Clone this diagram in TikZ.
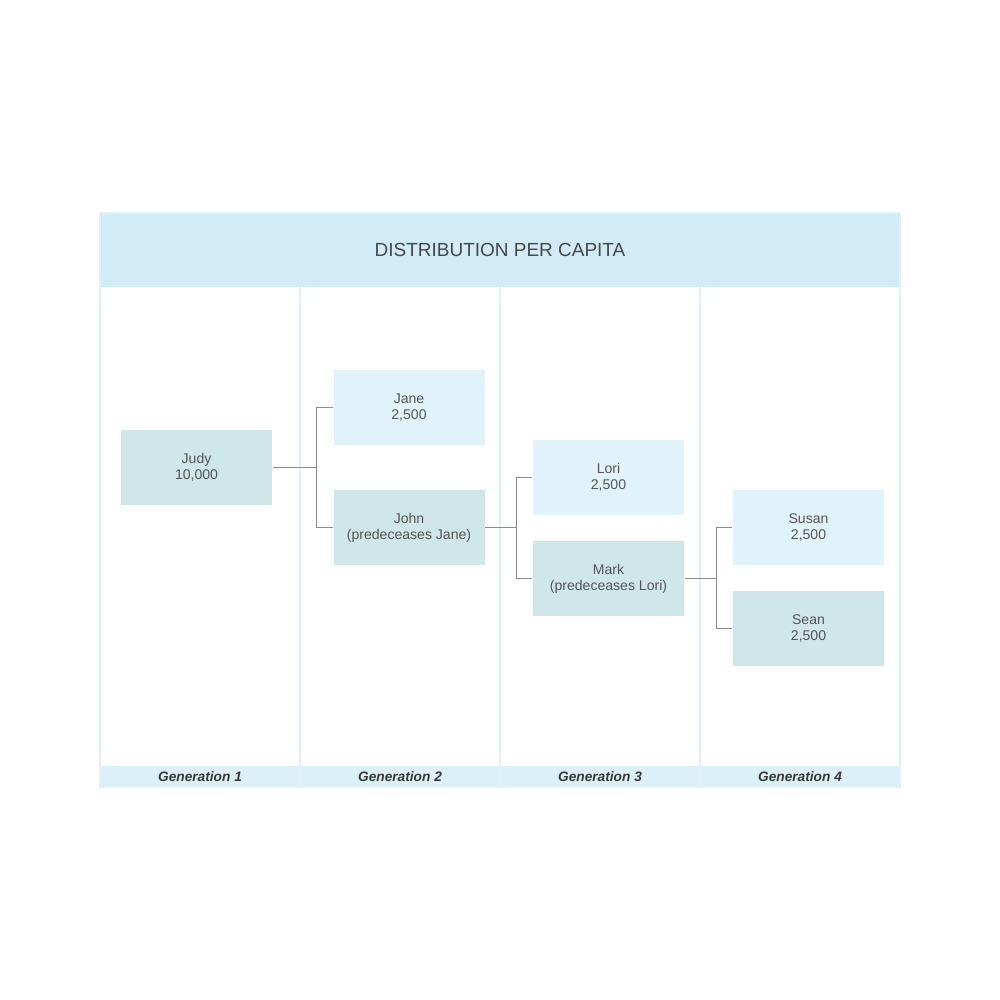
\documentclass[tikz,border=0pt]{standalone}
\usepackage{fontspec}
\setmainfont{Liberation Sans}
\usepackage{xcolor}
\usepackage{tikz}
\usetikzlibrary{positioning,calc}
\definecolor{headblue}{HTML}{D2ECF7}
\definecolor{footblue}{HTML}{DCF0FA}
\definecolor{gridline}{HTML}{E3F1F6}
\definecolor{heirlight}{HTML}{E1F3FA}
\definecolor{heirteal}{HTML}{CFE7E9}
\definecolor{linkgray}{HTML}{8C8C8C}
\definecolor{textgray}{HTML}{555555}

\begin{document}
\begin{tikzpicture}[
  every node/.style={font=\fontsize{4}{4.55}\selectfont, text=textgray},
  heirbox/.style={draw=none, inner sep=0pt, minimum width=1.51cm,
                  minimum height=0.75cm, align=center},
  livebox/.style={heirbox, fill=heirlight},
  deadbox/.style={heirbox, fill=heirteal},
  genlabel/.style={font=\fontsize{3.9}{4.5}\selectfont\bfseries\itshape, text=black!78},
  link/.style={draw=linkgray, line width=0.3pt},
]
\useasboundingbox (0,0) rectangle (10,10);

%% Frame: header band, columns, footer band
\fill[headblue] (1.00,7.13) rectangle (9.00,7.87);
\fill[footblue] (1.00,2.13) rectangle (9.00,2.34);
\foreach \xc in {3.00, 5.00, 7.00}{
  \draw[gridline, line width=0.3pt] (\xc,2.13) -- (\xc,7.13);
}
\draw[gridline, line width=0.3pt] (1.00,2.13) rectangle (9.00,7.87);
\node[font=\fontsize{5.4}{6}\selectfont, text=black!72] (title) at (5.00,7.50)
  {DISTRIBUTION PER CAPITA};

%% Generation labels
\foreach \gi in {1,...,4}{
  \node[genlabel] (gen\gi) at (2*\gi, 2.235) {Generation \gi};
}

%% Heirs (x: column centres, y: rows)
\node[deadbox] (judy)  at (1.965,5.325) {Judy\\10,000};
\node[livebox] (jane)  at (4.090,5.925) {Jane\\2,500};
\node[deadbox] (john)  at (4.090,4.725) {John\\(predeceases Jane)};
\node[livebox] (lori)  at (6.085,5.225) {Lori\\2,500};
\node[deadbox] (mark)  at (6.085,4.215) {Mark\\(predeceases Lori)};
\node[livebox] (susan) at (8.085,4.725) {Susan\\2,500};
\node[deadbox] (sean)  at (8.085,3.715) {Sean\\2,500};

%% Links parent -> children (elbow 1.6mm left of child)
\foreach \src/\kid in {judy/jane, judy/john, john/lori, john/mark, mark/susan, mark/sean}{
  \draw[link] (\src.east) -| ([xshift=-1.6mm]\kid.west) -- (\kid.west);
}

\end{tikzpicture}
\end{document}
